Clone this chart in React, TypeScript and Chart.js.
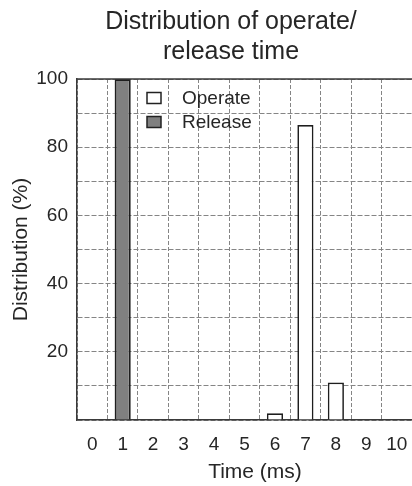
import React, { useEffect, useRef } from "react";
import { Chart, registerables } from "chart.js";

Chart.register(...registerables);

const titleLines = ["Distribution of operate/", "release time"];
const categories = ["0", "1", "2", "3", "4", "5", "6", "7", "8", "9", "10"];
const operateValues = [null, null, null, null, null, null, 2, 86.5, 11, null, null];
const releaseValues = [null, 100, null, null, null, null, null, null, null, null, null];
const yTickLabels = [20, 40, 60, 80, 100];
const xAxisTitle = "Time (ms)";
const yAxisTitle = "Distribution (%)";
const seriesNames = ["Operate", "Release"];

const FONT = "'Liberation Sans', Arial, sans-serif";
const TEXT = "#262626";
const GRID = "#858585";

const framePlugin = {
  id: "frameAndText",
  afterDraw(chart: any) {
    const { ctx, chartArea } = chart;
    ctx.save();
    // top border
    ctx.strokeStyle = "#3a3a3a";
    ctx.lineWidth = 1.5;
    ctx.beginPath();
    ctx.moveTo(chartArea.left, chartArea.top);
    ctx.lineTo(chartArea.right + 2, chartArea.top);
    ctx.stroke();

    // title
    ctx.fillStyle = TEXT;
    ctx.textAlign = "center";
    ctx.textBaseline = "middle";
    ctx.font = `25px ${FONT}`;
    titleLines.forEach((l, i) => ctx.fillText(l, 231, 22 + i * 30));

    // x axis title
    ctx.font = `21px ${FONT}`;
    ctx.fillText(xAxisTitle, 255, 472);

    // legend inside chart area
    const ds = chart.data.datasets;
    ctx.font = `19px ${FONT}`;
    ctx.textAlign = "left";
    ds.forEach((d: any, i: number) => {
      const cy = 98 + i * 24;
      ctx.fillStyle = d.backgroundColor;
      ctx.fillRect(147, cy - 5.5, 14, 11);
      ctx.strokeStyle = "#222";
      ctx.lineWidth = 1.5;
      ctx.strokeRect(147, cy - 5.5, 14, 11);
      ctx.fillStyle = TEXT;
      ctx.fillText(d.label, 182, cy + 1);
    });
    ctx.restore();
  },
};

export default function App() {
  const ref = useRef<HTMLCanvasElement | null>(null);
  useEffect(() => {
    if (!ref.current) return;
    const chart = new Chart(ref.current, {
      type: "bar",
      data: {
        labels: categories,
        datasets: [
          {
            label: seriesNames[0],
            data: operateValues as any,
            backgroundColor: "#ffffff",
            borderColor: "#1e1e1e",
            borderWidth: 1.7,
            grouped: false,
            barPercentage: 0.53,
            categoryPercentage: 1,
          },
          {
            label: seriesNames[1],
            data: releaseValues as any,
            backgroundColor: "#808080",
            borderColor: "#1e1e1e",
            borderWidth: 2,
            grouped: false,
            barPercentage: 0.53,
            categoryPercentage: 1,
          },
        ],
      },
      options: {
        animation: false,
        responsive: false,
        layout: { padding: { top: 79, left: 9, right: 0, bottom: 31 } },
        plugins: {
          legend: { display: false },
          title: { display: false },
          tooltip: { enabled: false },
        },
        scales: {
          x: {
            afterFit: (s: any) => {
              s.height = 35;
              s.paddingLeft = 0;
              s.paddingRight = 0;
            },
            grid: {
              offset: true,
              color: GRID,
              lineWidth: 1,
              drawTicks: false,
            } as any,
            border: { display: true, color: "#3a3a3a", width: 1.5, dash: [4, 2] } as any,
            ticks: { color: TEXT, font: { family: FONT, size: 19 }, padding: 13 },
          },
          y: {
            min: 0,
            max: 100,
            afterFit: (s: any) => {
              s.width = 68;
              s.paddingTop = 0;
              s.paddingBottom = 0;
            },
            grid: { color: GRID, lineWidth: 1, drawTicks: false },
            border: { display: true, color: "#3a3a3a", width: 1.5, dash: [5, 2] } as any,
            ticks: {
              stepSize: 10,
              color: TEXT,
              font: { family: FONT, size: 19 },
              padding: 9,
              callback: (v: any) => (yTickLabels.includes(Number(v)) ? String(v) : ""),
            },
            title: {
              display: true,
              text: yAxisTitle,
              color: TEXT,
              font: { family: FONT, size: 21 },
              padding: { top: 0, bottom: 2 },
            },
          },
        },
      },
      plugins: [framePlugin],
    });
    return () => chart.destroy();
  }, []);
  return (
    <div style={{ position: "fixed", left: 0, top: 0, width: 412, height: 486, background: "#fff" }}>
      <canvas ref={ref} width={412} height={486} style={{ width: 412, height: 486 }} />
    </div>
  );
}
